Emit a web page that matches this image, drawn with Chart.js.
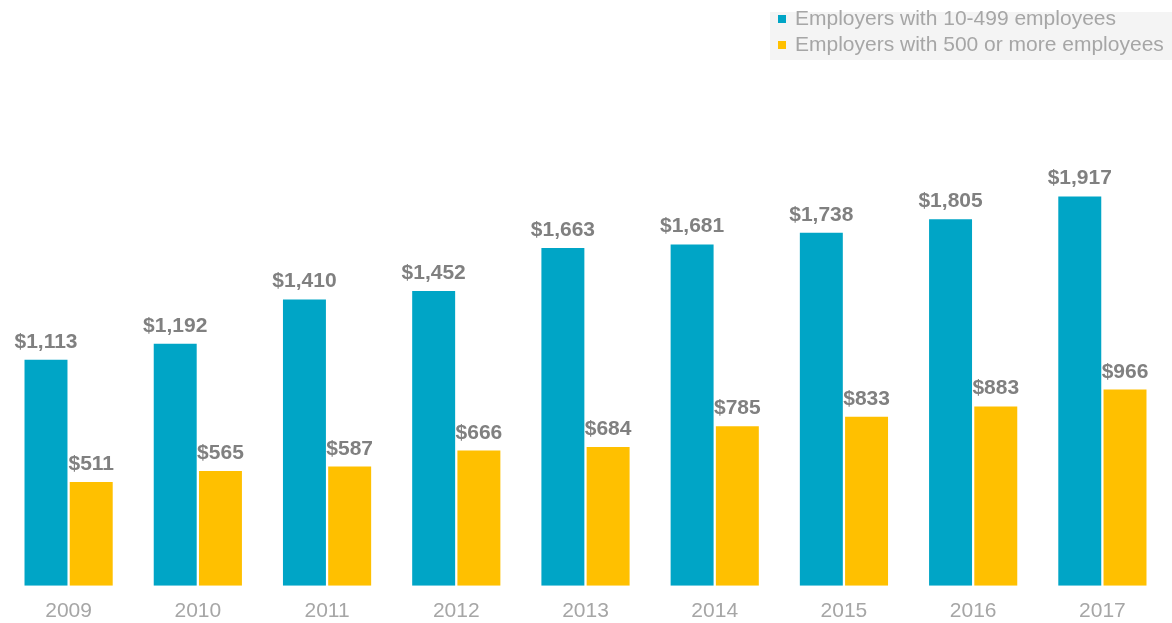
<!DOCTYPE html>
<html lang="en">
<head>
    <meta charset="UTF-8" />
    <title>Employer costs by firm size</title>
    <script src="https://cdn.jsdelivr.net/npm/chart.js"></script>
    <style>
        html, body { margin: 0; padding: 0; background: #fff; overflow: hidden; }
        #wrap { position: relative; width: 1172px; height: 623px; }
        #chart { display: block; }
        #legendBg { position: absolute; left: 770px; top: 12px; width: 402px; height: 48px; background: #f4f4f4; }
        #legend { position: absolute; left: 778px; top: 5px; font-family: "Liberation Sans", Arial, sans-serif; font-size: 21px; color: #a6a6a6; }
        #legend .item { height: 26px; line-height: 26px; white-space: nowrap; }
        #legend .box { display: inline-block; width: 8px; height: 8px; margin-right: 9px; vertical-align: 2px; }
    </style>
</head>
<body>
    <div id="wrap">
        <div id="legendBg"></div>
        <canvas id="chart" width="1172" height="623"></canvas>
        <div id="legend"></div>
    </div>

    <script>
        const years = ["2009", "2010", "2011", "2012", "2013", "2014", "2015", "2016", "2017"];
        const smallFirms = [1113, 1192, 1410, 1452, 1663, 1681, 1738, 1805, 1917];
        const largeFirms = [511, 565, 587, 666, 684, 785, 833, 883, 966];
        const seriesNames = ["Employers with 10-499 employees", "Employers with 500 or more employees"];
        const seriesColors = ["#00a5c6", "#ffc000"];

        // value labels above each bar
        const barLabels = {
            id: "barLabels",
            afterDatasetsDraw(chart) {
                const ctx = chart.ctx;
                ctx.save();
                ctx.font = "bold 21px 'Liberation Sans', Arial, sans-serif";
                ctx.fillStyle = "#808080";
                ctx.textAlign = "center";
                ctx.textBaseline = "alphabetic";
                chart.data.datasets.forEach((ds, i) => {
                    chart.getDatasetMeta(i).data.forEach((bar, j) => {
                        ctx.fillText("$" + ds.data[j].toLocaleString("en-US"), bar.x, bar.y - 12);
                    });
                });
                ctx.restore();
            }
        };

        new Chart(document.getElementById("chart"), {
            type: "bar",
            data: {
                labels: years,
                datasets: [
                    { label: seriesNames[0], data: smallFirms, backgroundColor: seriesColors[0] },
                    { label: seriesNames[1], data: largeFirms, backgroundColor: seriesColors[1] }
                ]
            },
            options: {
                responsive: false,
                animation: false,
                layout: { padding: { top: 139, left: 4, right: 5, bottom: -14 } },
                datasets: { bar: { categoryPercentage: 0.7, barPercentage: 0.95 } },
                scales: {
                    x: {
                        grid: { display: false, drawTicks: false },
                        border: { display: false },
                        ticks: { color: "#a6a6a6", padding: 13, font: { family: "'Liberation Sans', Arial, sans-serif", size: 21 } }
                    },
                    y: {
                        display: false,
                        min: 0,
                        max: 2200
                    }
                },
                plugins: {
                    legend: { display: false },
                    tooltip: { enabled: false }
                }
            },
            plugins: [barLabels]
        });

        const legendEl = document.getElementById("legend");
        seriesNames.forEach((name, i) => {
            const row = document.createElement("div");
            row.className = "item";
            row.innerHTML = `<span class="box" style="background:${seriesColors[i]}"></span>${name}`;
            legendEl.appendChild(row);
        });
    </script>
</body>
</html>
